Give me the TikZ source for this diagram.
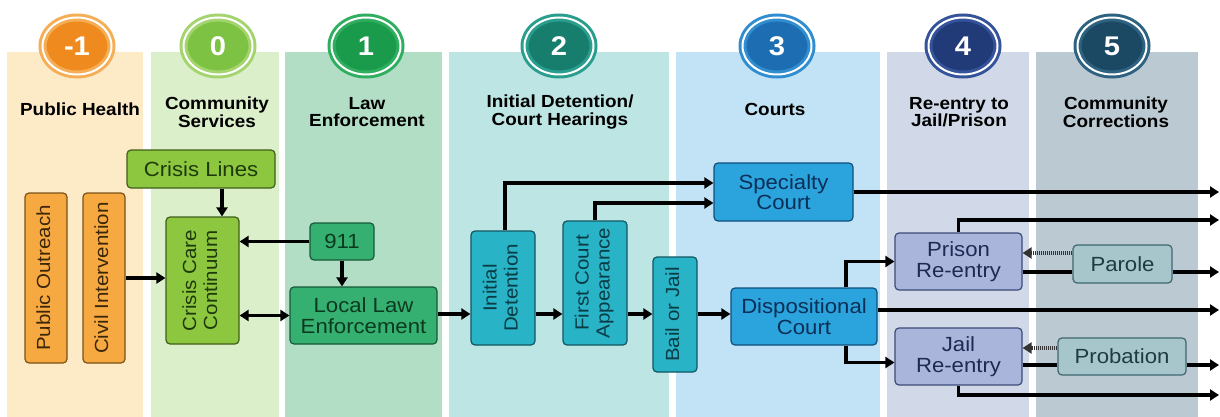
\documentclass[tikz,border=0pt]{standalone}
\usepackage{fontspec}
\setmainfont{Liberation Sans}[FakeStretch=1.08]
\usetikzlibrary{arrows.meta,shapes.geometric}

% Colours of the phases
\definecolor{bandA}{HTML}{FDEBC8}
\definecolor{bandB}{HTML}{DCEFCB}
\definecolor{bandC}{HTML}{B2DEC6}
\definecolor{bandD}{HTML}{BCE5E3}
\definecolor{bandE}{HTML}{C2E3F5}
\definecolor{bandF}{HTML}{D1D8E8}
\definecolor{bandG}{HTML}{BBC9D2}
\definecolor{dotA}{HTML}{EF8A1E}\definecolor{ringA}{HTML}{F5AE55}
\definecolor{dotB}{HTML}{7DC242}\definecolor{ringB}{HTML}{A3D46E}
\definecolor{dotC}{HTML}{1A9A4B}\definecolor{ringC}{HTML}{2FAE60}
\definecolor{dotD}{HTML}{177E6D}\definecolor{ringD}{HTML}{2A9E8E}
\definecolor{dotE}{HTML}{1D6DB3}\definecolor{ringE}{HTML}{2F8DD0}
\definecolor{dotF}{HTML}{213A78}\definecolor{ringF}{HTML}{34539A}
\definecolor{dotG}{HTML}{1B4863}\definecolor{ringG}{HTML}{2E6281}
\definecolor{fillA}{HTML}{F7A941}\definecolor{lineA}{HTML}{7A5217}\definecolor{textA}{HTML}{3A2608}
\definecolor{fillB}{HTML}{8DC63F}\definecolor{lineB}{HTML}{3F5F1A}\definecolor{textB}{HTML}{1E3A0A}
\definecolor{fillC}{HTML}{35B070}\definecolor{lineC}{HTML}{165B36}\definecolor{textC}{HTML}{0C3A20}
\definecolor{fillD}{HTML}{29B3C6}\definecolor{lineD}{HTML}{0F5663}\definecolor{textD}{HTML}{0A3C46}
\definecolor{fillE}{HTML}{2BA3DC}\definecolor{lineE}{HTML}{104E7C}\definecolor{textE}{HTML}{0B2F57}
\definecolor{fillF}{HTML}{A9B5DB}\definecolor{lineF}{HTML}{3B4B78}\definecolor{textF}{HTML}{1E2A52}
\definecolor{fillG}{HTML}{A6C6CB}\definecolor{lineG}{HTML}{3F6770}\definecolor{textG}{HTML}{1F3B42}

\newcommand{\vlabel}[1]{\rotatebox{90}{\begin{tabular}{@{}c@{}}#1\end{tabular}}}

\tikzset{
  phase/.style 2 args={ellipse, minimum width=69pt, minimum height=57pt, inner sep=0pt,
    line width=3pt, double=white, double distance=2pt, fill=#1, draw=#2,
    text=white, font=\bfseries\fontsize{27}{27}\selectfont},
  heading/.style={align=center, text=black, font=\bfseries\fontsize{17.5}{17.5}\selectfont},
  box/.style={rectangle, rounded corners=4pt, line width=1.2pt, align=center, inner sep=0pt,
    font=\fontsize{20.5}{20.5}\selectfont},
  vbox/.style={box, font=\fontsize{19}{21}\selectfont},
  outreach/.style={fill=fillA, draw=lineA, text=textA},
  crisis/.style={fill=fillB, draw=lineB, text=textB},
  police/.style={fill=fillC, draw=lineC, text=textC},
  detain/.style={fill=fillD, draw=lineD, text=textD},
  court/.style={fill=fillE, draw=lineE, text=textE},
  reentry/.style={fill=fillF, draw=lineF, text=textF},
  supervise/.style={fill=fillG, draw=lineG, text=textG},
  arr/.style={line width=3.4pt, -{Triangle[length=9pt,width=11pt]}},
  dblarr/.style={line width=3.4pt, {Triangle[length=9pt,width=11pt]}-{Triangle[length=9pt,width=11pt]}},
  plain/.style={line width=3.4pt},
  dotarr/.style={arr, draw=black!80, dash pattern=on 1pt off 1pt},
}

\begin{document}
\begin{tikzpicture}[x=1pt,y=-1pt]

    \useasboundingbox (0,0) rectangle (1220,417);

    % Bands
    \fill[bandA] (7,52)    rectangle (143,417);
    \fill[bandB] (151,52)  rectangle (279,417);
    \fill[bandC] (285,52)  rectangle (442,417);
    \fill[bandD] (449,52)  rectangle (669,417);
    \fill[bandE] (676,52)  rectangle (880,417);
    \fill[bandF] (887,52)  rectangle (1029,417);
    \fill[bandG] (1036,52) rectangle (1198,417);

    % Phase markers
    \node[phase={dotA}{ringA}] (ph-m1) at (77,46)   {-1}; %
    \node[phase={dotB}{ringB}] (ph-0)  at (218,46)  {0}; %
    \node[phase={dotC}{ringC}] (ph-1)  at (366,46)  {1}; %
    \node[phase={dotD}{ringD}] (ph-2)  at (559,46)  {2}; %
    \node[phase={dotE}{ringE}] (ph-3)  at (777,46)  {3}; %
    \node[phase={dotF}{ringF}] (ph-4)  at (963,46)  {4}; %
    \node[phase={dotG}{ringG}] (ph-5)  at (1112,46) {5}; %

    % Headings
    \node[heading] (h-m1) at (80,109)   {Public Health}; %
    \node[heading] (h-0)  at (217,112)  {Community\\Services}; %
    \node[heading] (h-1)  at (367,112)  {Law\\Enforcement}; %
    \node[heading] (h-2)  at (560,112)  {Initial Detention/\\Court Hearings}; %
    \node[heading] (h-3)  at (775,109)  {Courts}; %
    \node[heading] (h-4)  at (959,112)  {Re-entry to\\Jail/Prison}; %
    \node[heading] (h-5)  at (1116,112) {Community\\Corrections}; %

    % Nodes
    \node[vbox, outreach, minimum width=42pt, minimum height=170pt] (pubout) at (46,278) {\vlabel{Public Outreach}}; %
    \node[vbox, outreach, minimum width=42pt, minimum height=170pt] (civint) at (104,278) {\vlabel{Civil Intervention}}; %
    \node[box, crisis, minimum width=148pt, minimum height=38pt] (lines) at (201,169) {Crisis Lines}; %
    \node[vbox, crisis, minimum width=73pt, minimum height=127pt] (care) at (202.5,280.5) {\vlabel{Crisis Care\\Continuum}}; %
    \node[box, police, minimum width=64pt, minimum height=37pt] (call) at (342,241.5) {911}; %
    \node[box, police, minimum width=147pt, minimum height=57pt] (local) at (363.5,315.5) {Local Law\\Enforcement}; %
    \node[vbox, detain, minimum width=64pt, minimum height=114pt] (initdet) at (503,288) {\vlabel{Initial\\Detention}}; %
    \node[vbox, detain, minimum width=64pt, minimum height=124pt] (firstapp) at (595,283) {\vlabel{First Court\\Appearance}}; %
    \node[vbox, detain, minimum width=44pt, minimum height=115pt] (bail) at (675,314.5) {\vlabel{Bail or Jail}}; %
    \node[box, court, minimum width=139pt, minimum height=58pt] (special) at (783.5,192) {Specialty\\Court}; %
    \node[box, court, minimum width=146pt, minimum height=57pt] (dispo) at (804,316.5) {Dispositional\\Court}; %
    \node[box, reentry, minimum width=127pt, minimum height=57pt] (prison) at (958.5,261.5) {Prison\\Re-entry}; %
    \node[box, reentry, minimum width=127pt, minimum height=57pt] (jail) at (958.5,356.5) {Jail\\Re-entry}; %
    \node[box, supervise, minimum width=99pt, minimum height=38pt] (parole) at (1122.5,264) {Parole}; %
    \node[box, supervise, minimum width=128pt, minimum height=37pt] (probat) at (1122,356.5) {Probation}; %

    % Free ends
    \coordinate (main) at (0,314);
    \coordinate (out1) at (1219,192);
    \coordinate (out2) at (1219,220);
    \coordinate (out3) at (1219,272);
    \coordinate (out4) at (1219,310);
    \coordinate (out5) at (1219,365);
    \coordinate (out6) at (1219,395);

    % Edges
    \draw[arr] (civint.east) -- (civint.east -| care.west); %
    \draw[arr] ([xshift=21pt]lines.south) -- ([xshift=21pt]lines.south |- care.north); %
    \draw[arr] (call.west) -- (call.west -| care.east); %
    \draw[arr] (call.south) -- (call.south |- local.north); %
    \draw[dblarr] (care.east |- local.west) -- (local.west); %
    \draw[arr] (local.east |- main) -- (initdet.west |- main); %
    \draw[arr] (initdet.east |- main) -- (firstapp.west |- main); %
    \draw[arr] (firstapp.east |- main) -- (bail.west |- main); %
    \draw[arr] (bail.east |- main) -- (dispo.west |- main); %
    \draw[arr] ([xshift=2pt]initdet.north) |- ([yshift=9pt]special.west); %
    \draw[arr] (firstapp.north) |- ([yshift=-11pt]special.west); %
    \draw[arr] (special.east) -- (out1); %
    \draw[arr] ([xshift=42pt]dispo.north) |- (prison.west); %
    \draw[arr] ([xshift=42pt]dispo.south) |- ([yshift=-6pt]jail.west); %
    \draw[arr] (dispo.east |- out4) -- (out4); %
    \draw[arr] (prison.north) |- (out2); %
    \draw[dotarr] ([yshift=11pt]parole.west) -- ([yshift=11pt]parole.west -| prison.east); %
    \draw[plain] (prison.east |- out3) -- (parole.west |- out3); %
    \draw[arr] (parole.east |- out3) -- (out3); %
    \draw[dotarr] ([yshift=8.5pt]probat.west) -- ([yshift=8.5pt]probat.west -| jail.east); %
    \draw[plain] (jail.east |- out5) -- (probat.west |- out5); %
    \draw[arr] (probat.east |- out5) -- (out5); %
    \draw[arr] (jail.south) |- (out6); %

\end{tikzpicture}
\end{document}
